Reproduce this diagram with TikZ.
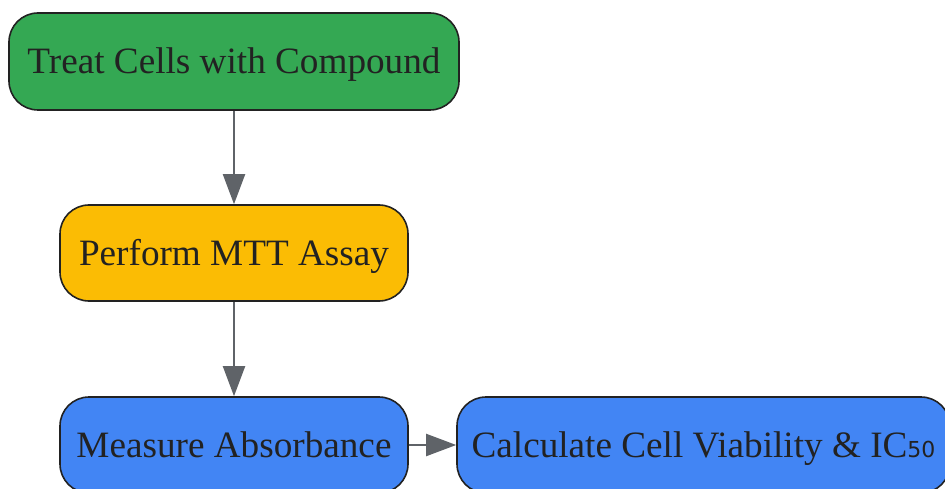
\documentclass[tikz,border=0pt]{standalone}
\usepackage{fontspec}
\setmainfont{Liberation Serif}
\newfontfamily\subfont{DejaVu Sans}
\usetikzlibrary{arrows.meta}
\definecolor{stepgreen}{HTML}{34A853}
\definecolor{stepyellow}{HTML}{FBBC04}
\definecolor{stepblue}{HTML}{4285F4}
\definecolor{edgegray}{HTML}{5F6368}
\definecolor{inkdark}{HTML}{222222}
\tikzset{
  stepbox/.style={draw=inkdark, line width=1.6pt, rounded corners=29pt,
    minimum height=96pt, inner sep=0pt, text=inkdark,
    text height=25pt, text depth=0pt,
    font=\fontsize{37.2}{40}\selectfont},
  flow/.style={draw=edgegray, line width=2pt, -{Triangle[length=30pt,width=22pt]}}
}
\begin{document}
\begin{tikzpicture}[x=1pt,y=-1pt, line join=round]
	\useasboundingbox (0,0) rectangle (945,489);
	\node[stepbox, fill=stepgreen, minimum width=450pt, minimum height=97pt] (treat) at (234,61.5) {Treat Cells with Compound};
	\node[stepbox, fill=stepyellow, minimum width=348pt] (mtt) at (234,253) {Perform MTT Assay};
	\node[stepbox, fill=stepblue, minimum width=348pt] (absorb) at (234,445) {Measure Absorbance};
	\node[stepbox, fill=stepblue, minimum width=493pt] (viab) at (703.5,445) {Calculate Cell Viability \& IC{\subfont\fontsize{22}{24}\selectfont 50}};
	\draw[flow] (treat) -- (mtt);
	\draw[flow] (mtt) -- (absorb);
	\draw[flow] (absorb) -- (viab);
\end{tikzpicture}
\end{document}
